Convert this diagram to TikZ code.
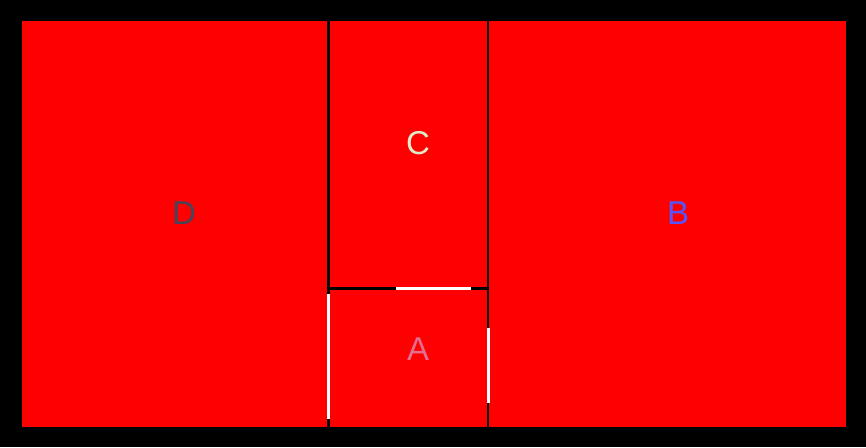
\documentclass[tikz,border=0pt]{standalone}
\usepackage{fontspec}
\setmainfont{Liberation Sans}
\definecolor{dtext}{RGB}{68,68,90}
\definecolor{ctext}{RGB}{222,236,204}
\definecolor{btext}{RGB}{85,85,255}
\definecolor{atext}{RGB}{226,110,146}
\begin{document}
\begin{tikzpicture}[x=1pt,y=1pt,
  cell/.style={fill=red, draw=none, inner sep=0pt, outer sep=0pt, anchor=south west},
  lbl/.style={font=\fontsize{33}{33}\selectfont, inner sep=0pt},
  wline/.style={draw=white, line width=3pt}]
\fill[black] (0,0) rectangle (866,447);
\useasboundingbox (0,0) rectangle (866,447);
\node[cell, minimum width=305pt, minimum height=406pt] (D) at (22,20) {};
\node[cell, minimum width=157pt, minimum height=266pt] (C) at (330,160) {};
\node[cell, minimum width=157pt, minimum height=137pt] (A) at (330,20) {};
\node[cell, minimum width=357pt, minimum height=406pt] (B) at (489,20) {};
\coordinate (h1) at (396,158.5);
\coordinate (h2) at (471,158.5);
\coordinate (l1) at (328.5,153.3);
\coordinate (l2) at (328.5,28);
\coordinate (r1) at (488.5,119);
\coordinate (r2) at (488.5,44);
\draw[wline] (h1) -- (h2);
\draw[wline] (l1) -- (l2);
\draw[wline] (r1) -- (r2);
\node[lbl, text=dtext] (tD) at (184,234) {D};
\node[lbl, text=ctext] (tC) at (418,304) {C};
\node[lbl, text=atext] (tA) at (418,98) {A};
\node[lbl, text=btext] (tB) at (678,234) {B};
\end{tikzpicture}
\end{document}
